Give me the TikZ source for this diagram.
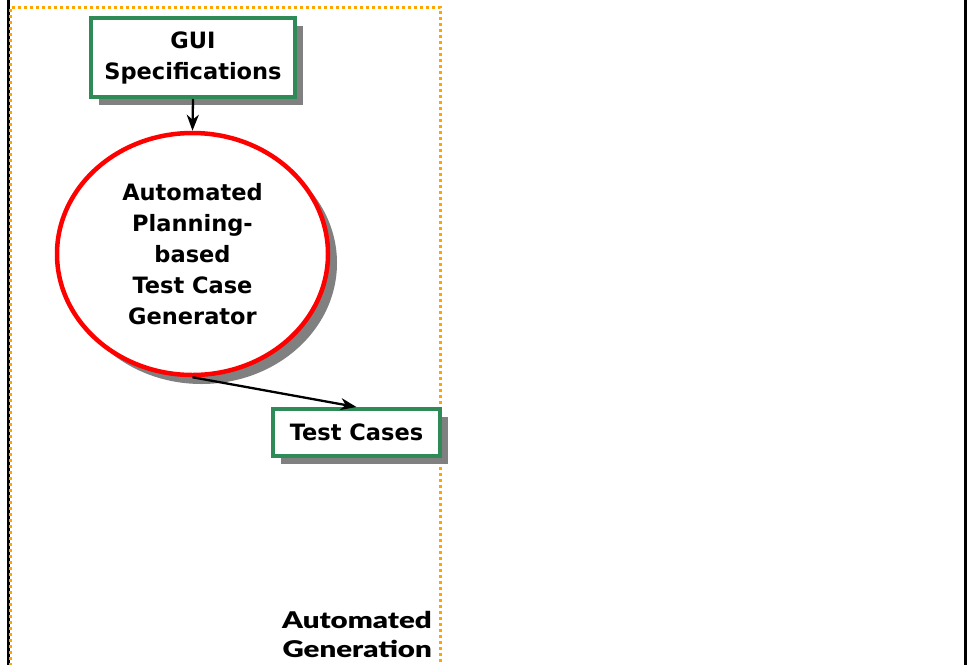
\documentclass[tikz,border=0pt]{standalone}
\usepackage{fontspec}
\setmainfont{DejaVu Sans}
\newfontfamily\labelfont{DejaVu Sans Bold}
\newfontfamily\heavyfont{Lato Black}
\usetikzlibrary{arrows.meta,shapes.geometric,shadows}
\definecolor{boxgreen}{RGB}{46,139,87}
\definecolor{dotorange}{RGB}{255,165,0}
\definecolor{shadowgray}{RGB}{128,128,128}
\tikzset{
  lbl/.style={font=\labelfont\fontsize{22.5}{31}\selectfont, align=center, text=black, inner sep=0pt},
  greenbox/.style={lbl, rectangle, draw=boxgreen, line width=4pt, fill=white,
    drop shadow={shadow xshift=8pt, shadow yshift=-8pt, fill=shadowgray, opacity=1}},
  redoval/.style={lbl, ellipse, draw=red, line width=4.5pt, fill=white,
    drop shadow={shadow xshift=9pt, shadow yshift=-9pt, fill=shadowgray, opacity=1}},
  flow/.style={-{Stealth[length=16pt,width=12pt,inset=5pt]}, line width=2.3pt, black},
  frameline/.style={line width=3pt, black},
  zone/.style={dotorange, line width=3pt, dash pattern=on 3pt off 3pt},
  caption/.style={font=\heavyfont\fontsize{23}{29}\selectfont, align=right, inner sep=0pt},
}
\begin{document}
\begin{tikzpicture}[x=1pt,y=-1pt]
  \useasboundingbox (0,0) rectangle (968,664);
  \clip (0,0) rectangle (968,664);
  \fill[white] (0,0) rectangle (968,664);

  % slide frame and the generation zone
  \draw[frameline] (8.5,-20) -- (8.5,690);
  \draw[frameline] (965,-20) -- (965,690);
  \draw[zone] (10.5,690) -- (10.5,7) -- (440,7) -- (440,690);

  % components
  \node[greenbox, minimum width=204pt, minimum height=79pt] (gui) at (193,57.5)
    {GUI\\Specifications};
  \node[redoval, minimum width=271pt, minimum height=242pt] (gen) at (192.5,254)
    {Automated\\Planning-\\based\\Test Case\\Generator};
  \node[greenbox, minimum width=167pt, minimum height=47pt] (tc) at (356.5,432.5)
    {Test Cases};

  % flow
  \draw[flow] (gui.south) -- (gen.north);
  \draw[flow] (gen.south) -- (tc.north);

  % zone caption
  \node[caption, anchor=east] (cap) at (432,634)
    {\scalebox{1.28}[1]{Automated}\\\scalebox{1.28}[1]{Generation}};
\end{tikzpicture}
\end{document}
